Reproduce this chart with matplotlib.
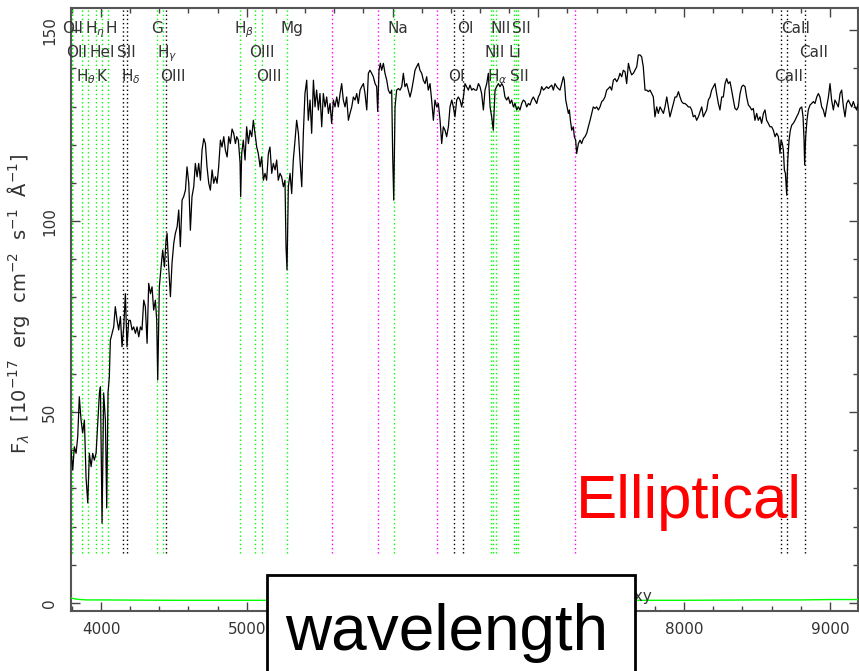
import matplotlib
matplotlib.use('Agg')
import matplotlib.pyplot as plt
from matplotlib.patches import Rectangle
from matplotlib.ticker import MultipleLocator, FuncFormatter

# spectrum (wavelength in Angstrom, flux in 1e-17 units)
wave = [3794, 3806, 3817, 3829, 3840, 3851, 3863, 3874, 3886, 3897,
        3909, 3920, 3932, 3943, 3954, 3966, 3977, 3989, 3996, 4007,
        4018, 4030, 4039, 4048, 4057, 4064, 4076, 4087, 4098, 4110,
        4121, 4133, 4144, 4156, 4167, 4178, 4190, 4201, 4213, 4224,
        4236, 4247, 4259, 4270, 4281, 4293, 4304, 4316, 4327, 4339,
        4350, 4361, 4373, 4382, 4389, 4400, 4412, 4423, 4435, 4446,
        4453, 4464, 4476, 4487, 4499, 4510, 4522, 4533, 4544, 4556,
        4567, 4579, 4590, 4602, 4613, 4624, 4636, 4647, 4659, 4670,
        4682, 4693, 4705, 4716, 4727, 4739, 4750, 4762, 4773, 4785,
        4796, 4807, 4819, 4830, 4842, 4853, 4865, 4876, 4887, 4899,
        4910, 4922,
        4931, 4942, 4954, 4958, 4965, 4976, 4988, 4999, 5011, 5022,
        5034, 5045, 5056, 5068, 5079, 5091, 5102, 5114, 5125, 5136,
        5148, 5159, 5171, 5182, 5194, 5205, 5216, 5228, 5239, 5251,
        5262, 5269, 5276, 5285, 5297, 5308, 5319, 5331, 5342, 5354,
        5365, 5377, 5388, 5399, 5411, 5422, 5434, 5445, 5457, 5468,
        5479, 5491, 5502, 5514, 5525, 5537, 5548, 5560, 5571, 5582,
        5594, 5605, 5617, 5628, 5640, 5651, 5662, 5674, 5685, 5697,
        5708, 5720, 5731, 5743, 5754, 5765, 5777, 5788, 5800, 5811,
        5823, 5834, 5845, 5857, 5868, 5880, 5891, 5898, 5907, 5916,
        5925, 5937, 5948, 5960, 5971, 5983, 5994, 6001, 6008,
        6017, 6028, 6040, 6051, 6063, 6074, 6085, 6097, 6108, 6120,
        6131, 6143, 6154, 6165, 6177, 6188, 6200, 6211, 6223, 6234,
        6245, 6257, 6268, 6280, 6291, 6303, 6314, 6326, 6337, 6348,
        6360, 6371, 6383, 6394, 6406, 6417, 6428, 6440, 6451, 6463,
        6474, 6486, 6497, 6508, 6520, 6531, 6543, 6554, 6566, 6577,
        6589, 6600, 6611, 6623, 6634, 6646, 6657, 6669, 6680, 6691,
        6703, 6714, 6726, 6737, 6749, 6760, 6771, 6783, 6794, 6806,
        6817, 6829, 6840, 6852, 6863, 6874, 6886, 6897, 6909, 6920,
        6932, 6943, 6954, 6966, 6977, 6989, 7000, 7012, 7023, 7035,
        7046, 7057, 7069, 7080, 7092, 7103,
        7114, 7126, 7137, 7149, 7160, 7172, 7178, 7188, 7197, 7206,
        7213, 7220, 7229, 7240, 7247, 7256, 7263, 7275, 7286, 7297,
        7309, 7320, 7332, 7343, 7355, 7366, 7377, 7389, 7400, 7412,
        7423, 7435, 7446, 7457, 7469, 7480, 7492, 7503, 7515, 7526,
        7538, 7549, 7560, 7572, 7583, 7595, 7606, 7618, 7629, 7640,
        7652, 7663, 7675, 7686, 7698, 7709, 7720, 7732, 7743, 7755,
        7766, 7778, 7789, 7800, 7812, 7823, 7835, 7846, 7858, 7869,
        7881, 7892, 7903, 7915, 7926, 7938, 7949, 7961, 7972, 7983,
        7995, 8006, 8018, 8029, 8041, 8052, 8063, 8075, 8086, 8098,
        8109, 8121, 8132, 8143, 8155, 8166, 8178, 8189, 8201, 8212,
        8223, 8235, 8246, 8258, 8269, 8281,
        8292, 8303, 8315, 8326, 8338, 8349, 8361, 8372, 8384, 8395,
        8406, 8418, 8429, 8441, 8452, 8464, 8475, 8486, 8498, 8509,
        8521, 8532, 8544, 8555, 8566, 8578, 8589, 8601, 8612, 8624,
        8635, 8647, 8658, 8665, 8674, 8681, 8688, 8695, 8704, 8711,
        8720, 8729, 8738, 8749, 8761, 8772, 8784, 8795, 8807, 8816,
        8823, 8827, 8834, 8843, 8852, 8864, 8875, 8887, 8898, 8910,
        8921, 8932, 8944, 8955, 8967, 8978, 8990, 9001, 9012, 9024,
        9035, 9047, 9058, 9070, 9081, 9093, 9104, 9115, 9127, 9138,
        9150, 9161, 9173, 9184, 9195]

flux = [40, 34.8, 40.9, 39.2, 43.5, 54, 47.9, 44.5, 47.9, 33,
        26.2, 39.2, 35.7, 39.2, 37.4, 39.2, 47, 55, 56.6, 20.9,
        55, 47.9, 24.9, 55, 59.2, 68.8, 70.6, 72.3, 77.6, 74,
        71.5, 75, 67.1, 72.3, 81, 67.1, 74, 74, 71.5, 72.3,
        70.6, 72.3, 69.7, 72.3, 71.5, 79.3, 77.6, 68, 83.7, 81,
        82.8, 76.7, 79.3, 74, 58.4, 82.8, 88, 92.4, 88, 95,
        96.8, 88, 80.2, 89, 94.2, 96.8, 98.5, 102.9, 93.3, 105.5,
        106.4, 108.1, 114.2, 109.9, 97.6, 106.4, 109, 115.1, 111.6, 115.1,
        110.7, 118.6, 121.6, 120.3, 114.2, 109.9, 108.1, 113.4, 109.9, 111.6,
        109.9, 114.2, 121.2, 119.4, 122.1, 118.6, 116.8, 122.1, 120.3, 124.1,
        123, 120.3,
        122.1, 121.2, 115.2, 106.4, 117.7, 121.2, 116, 124.7, 120.3, 123.8,
        122.1, 126.4, 123, 119.4, 117.7, 114.2, 116.8, 110.7, 112.5, 110.7,
        117.7, 119.4, 112.5, 115.1, 113.4, 116, 110.7, 112.5, 111.6, 109,
        110.7, 93.3, 87.2, 109, 112.5, 107.2, 116, 121.2, 126.4, 123,
        116, 109, 123, 133.4, 136.9, 126.4, 131.7, 123, 136.9, 129.9,
        134.3, 129.1, 133.4, 124.7, 133.4, 129.9, 132.5, 128.2, 130.8, 125.6,
        131.7, 129.9, 132.5, 129.9, 133.4, 136, 131.7, 129.9, 132.5, 126.4,
        128.2, 129.9, 132.5, 131.7, 133.4, 130.8, 134.3, 135.2, 136, 133.4,
        129.1, 138.7, 139.5, 138.7, 137.8, 136, 135.2, 128.7, 139.5, 141.3,
        139.5, 141.3, 138.7, 136.9, 134.3, 133.4, 134.3, 116.8, 105.5,
        129.9, 134.3, 134.7, 134.3, 135.2, 138.7, 135.2, 136, 134.3, 132.5,
        134.3, 136.9, 139.5, 140.4, 141.3, 139.5, 138.7, 136.9, 136, 137.8,
        134.3, 136, 131.7, 126.4, 131.7, 129.9, 130.8, 126.4, 120.3, 124.7,
        123.8, 122.1, 124.7, 129.9, 131.7, 129.9, 127.3, 131.7, 132.5, 131.7,
        129.9, 132.5, 136, 135.2, 134.3, 135.6, 134.3, 134.7, 134.3, 134.3,
        136, 135.2, 133.4, 129.1, 134.3, 136, 138.7, 129.9, 127.3, 123.8,
        134.3, 135.2, 136, 135.2, 136, 135.2, 132.5, 131.7, 132.5, 130.8,
        131.7, 129.9, 130.8, 129.1, 129.9, 129.1, 130.8, 131.7, 131.3, 129.9,
        130.8, 130.4, 131.7, 132.5, 131.7, 130.8, 132.5, 133.4, 135.2, 134.3,
        134.7, 135.2, 134.7, 135.2, 135.6, 134.3,
        136, 135.2, 134.7, 134.3, 136, 137.8, 136.9, 131.7, 129.9, 128.2,
        129.1, 126.4, 123.8, 124.7, 122.1, 121.2, 117.7, 120.3, 121.2, 120.3,
        121.6, 122.1, 123, 124.7, 126.4, 128.2, 129.9, 129.5, 129.9, 129.1,
        129.9, 131.3, 131.7, 132.5, 134.3, 134.7, 135.2, 134.3, 136.9, 137.3,
        136.5, 137.3, 138.7, 137.8, 139.5, 139.1, 136, 141.3, 139.5, 138.3,
        138.7, 139.5, 140.4, 143.5, 143.5, 143.0, 140.4, 134.3, 134.3, 133.9,
        134.3, 133.4, 132.5, 127.3, 129.9, 128.2, 129.9, 129.1, 128.2, 129.9,
        132.5, 129.9, 127.3, 129.1, 130.8, 132.5, 132.5, 133.9, 132.5, 131.3,
        130.8, 130.8, 130.4, 129.9, 129.9, 129.1, 127.3, 127.7, 126.4, 127.3,
        128.6, 129.9, 127.3, 128.2, 129.1, 131.7, 132.5, 134.3, 135.2, 136,
        133.4, 130.8, 129.1, 132.5, 132.5, 136,
        137.3, 136, 136.5, 134.3, 131.7, 129.5, 129.1, 129.9, 133.4, 135.2,
        135.6, 135.2, 132.5, 130.4, 129.9, 129.1, 129.5, 126.4, 128.2, 126.4,
        127.3, 125.6, 128.2, 129.1, 126.4, 125.6, 124.7, 124.7, 123.8, 122.1,
        123, 122.1, 117.7, 121.2, 120.3, 118.6, 113.4, 112.5, 106.8, 116,
        121.2, 123.8, 125.1, 125.6, 126.4, 127.3, 128.2, 129.5, 129.9, 127.3,
        121.2, 114.7, 122.1, 126.4, 129.1, 130.4, 130.8, 131.3, 130.8, 132.5,
        133.4, 132.5, 129.9, 129.1, 127.3, 129.9, 132.5, 136, 131.7, 129.1,
        131.7, 130.8, 129.9, 133.4, 134.3, 129.9, 127.3, 130.8, 131.7, 130.8,
        129.9, 131.3, 129.9, 129.1, 130.8]

# error spectrum (green, near zero)
err_wave = [3794, 3830, 3900, 4000, 4500, 5000, 6000, 7000, 8000, 8500, 8800, 9000, 9195]
err_flux = [1.3, 1.0, 0.8, 0.8, 0.7, 0.7, 0.7, 0.7, 0.7, 0.8, 0.8, 0.9, 0.9]

# line list
z = 0.0193
line_names = ['OII', 'OII', r'H$_\theta$', r'H$_\eta$', 'HeI', 'K', 'H', 'SII',
              r'H$_\delta$', 'G', r'H$_\gamma$', 'OIII', r'H$_\beta$', 'OIII',
              'OIII', 'Mg', 'Na', 'OI', 'OI', 'NII', r'H$_\alpha$', 'NII', 'Li',
              'SII', 'SII', 'CaII', 'CaII', 'CaII']
line_rest = [3727, 3729, 3798, 3835, 3889, 3934, 3969, 4072, 4102, 4304, 4341,
             4363, 4861, 4959, 5007, 5175, 5894, 6300, 6363, 6548, 6563, 6583,
             6707, 6716, 6731, 8498, 8542, 8662]
line_rows = [1, 2, 3, 1, 2, 3, 1, 2, 3, 1, 2, 3, 1, 2, 3, 1, 1, 3, 1, 2, 3, 1,
             2, 3, 1, 3, 1, 2]
line_colors = ['#00ff00'] * 7 + ['black', 'black'] + ['#00ff00', '#00ff00', 'black'] \
    + ['#00ff00'] * 5 + ['black', 'black'] + ['#00ff00'] * 6 + ['black'] * 3
sky_lines = [5585, 5898, 6304, 7250]
row_y = {1: 149.2, 2: 142.9, 3: 136.6}
hidden_ticks = [6000, 7000]  # covered by the label box in the picture

fig = plt.figure(figsize=(8.59, 6.71), dpi=100)
ax = fig.add_axes([71 / 859, 60 / 671, 787 / 859, 603 / 671])

ax.plot(wave, flux, color='black', lw=0.9, zorder=3)
ax.plot(err_wave, err_flux, color='#00ff00', lw=1, zorder=3)

for i, (name, rest, row, col) in enumerate(zip(line_names, line_rest, line_rows, line_colors)):
    obs = rest * (1 + z)
    ax.axvline(obs, ymin=0.097, ymax=1, color=col, lw=1, ls=(0, (1, 2)), zorder=2)
    dx = -6
    if i == 0:
        dx = -10   # crowded start of the top row
    elif i == 3:
        dx = -3
    elif i == 6:
        dx = -2
    ax.annotate(name, xy=(obs, row_y[row]), xytext=(dx, 0), textcoords='offset pixels',
                ha='left', va='baseline', fontsize=11, color='#333333')
for w in sky_lines:
    ax.axvline(w, ymin=0.097, ymax=1, color='#ff00ff', lw=1, ls=(0, (1, 2)), zorder=2)

ax.set_xlim(3794, 9193)
ax.set_ylim(-2.1, 155.8)
ax.xaxis.set_major_locator(MultipleLocator(1000))
ax.xaxis.set_minor_locator(MultipleLocator(200))
ax.xaxis.set_major_formatter(FuncFormatter(
    lambda v, p: '' if round(v) in hidden_ticks else f'{v:.0f}'))
ax.yaxis.set_major_locator(MultipleLocator(50))
ax.yaxis.set_minor_locator(MultipleLocator(10))
ax.tick_params(which='both', direction='in', top=True, right=True,
               colors='#444444', labelcolor='#333333', labelsize=11)
ax.tick_params(which='major', length=6.5, width=1)
ax.tick_params(which='minor', length=3.4, width=1)
ax.tick_params(axis='x', pad=8)
ax.tick_params(axis='y', pad=10, labelrotation=90)
plt.setp(ax.get_yticklabels(), va='center')
for s in ax.spines.values():
    s.set_color('#555555')
    s.set_linewidth(1.5)

ax.set_ylabel(r'F$_\lambda$  [10$^{-17}$  erg  cm$^{-2}$  s$^{-1}$  Å$^{-1}$]',
              fontsize=14, color='#333333')
ax.yaxis.set_label_coords(-0.049, 0.51)

fig.text(652 / 859, 70 / 671, 'galaxy', fontsize=11, color='#333333',
         ha='right', va='baseline', zorder=1)
fig.text(576 / 859, 153 / 671, 'Elliptical', color='red', fontsize=44.5,
         family='Liberation Sans', ha='left', va='baseline', zorder=4)
fig.add_artist(Rectangle((267 / 859, -0.05), 368 / 859, 0.05 + 96 / 671,
                         transform=fig.transFigure, facecolor='white',
                         edgecolor='black', lw=2, zorder=2))
fig.text(285 / 859, 21 / 671, 'wavelength', fontsize=46, family='Liberation Sans',
         color='black', ha='left', va='baseline', zorder=3)

fig.savefig('out.png', dpi=100)
